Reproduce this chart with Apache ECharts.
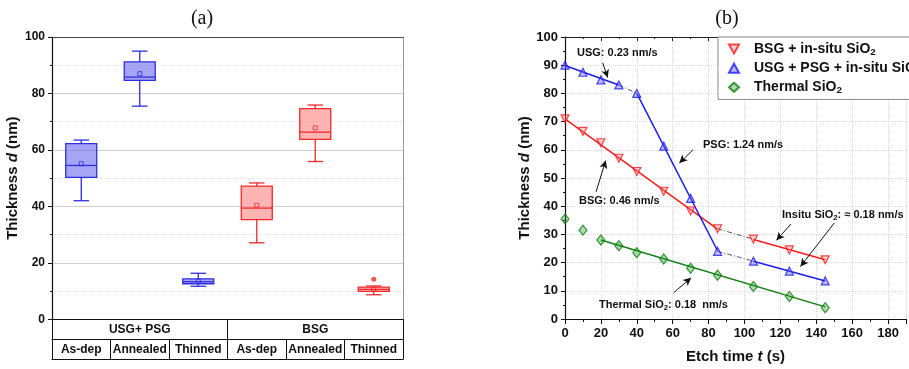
<!DOCTYPE html>
<html>
<head>
<meta charset="utf-8">
<script src="https://cdn.jsdelivr.net/npm/echarts@6/dist/echarts.min.js"></script>
<style>
  html, body { margin: 0; padding: 0; background: #fff; }
  #main { width: 909px; height: 369px; }
</style>
</head>
<body>
<div id="main"></div>
<script>
// ---- panel (a): box plots ----
const groups = ['USG+ PSG', 'BSG'];
const stages = ['As-dep', 'Annealed', 'Thinned', 'As-dep', 'Annealed', 'Thinned'];
// [category index, min, q1, median, q3, max, mean]
const usgBoxes = [
  [0, 42.0, 50.3, 54.5, 62.2, 63.5, 55.1],
  [1, 75.5, 84.6, 85.8, 91.2, 95.0, 87.0],
  [2, 11.7, 12.6, 13.3, 14.3, 16.3, 13.5]
];
const bsgBoxes = [
  [3, 27.1, 35.3, 39.4, 47.2, 48.3, 40.4],
  [4, 55.9, 63.7, 66.3, 74.6, 75.9, 67.8],
  [5, 8.7, 9.9, 10.6, 11.4, 11.8, 10.7]
];
const bsgOutliers = [[5, 14.2]];

// ---- panel (b): etch curves ----
const bsgPoints = [[0, 71], [10, 66.5], [20, 62.5], [30, 57], [40, 52.3], [55, 45.3], [70, 38.3], [85, 32], [105, 28.3], [125, 24.5], [145, 21]];
const usgPoints = [[0, 90], [10, 87.5], [20, 84.8], [30, 83], [40, 80], [55, 61.3], [70, 42.8], [85, 24], [105, 20.5], [125, 17], [145, 13.5]];
const thermalPoints = [[0, 35.5], [10, 31.5], [20, 28], [30, 26], [40, 23.5], [55, 21.3], [70, 18], [85, 15.5], [105, 11.5], [125, 8], [145, 4]];
// linear fits
const bsgFit1 = [[0, 71], [85, 31.9]];
const bsgFit2 = [[105, 28.2], [145, 21]];
const usgFit1 = [[0, 89.9], [30, 83]];
const usgFit2 = [[40, 80], [85, 24.2]];
const usgFit3 = [[105, 20.5], [145, 13.5]];
const thermalFit = [[20, 28], [145, 4.3]];
// dash-dot connectors between fits
const usgGap1 = [[30, 83], [40, 80]];
const usgGap2 = [[85, 24], [105, 20.5]];
const bsgGap = [[85, 32], [105, 28.3]];
// annotation arrows [from, to] in data units
const arrows = [
  [[21, 90.8], [23.8, 85.6]],
  [[71.3, 60], [63.7, 55.3]],
  [[17.3, 45.1], [22.7, 56.2]],
  [[60.5, 9.3], [70.3, 14.6]],
  [[125.9, 33.7], [117.8, 27.9]],
  [[150.1, 34.1], [131.2, 18.6]]
];

const FONT = 'Liberation Sans';
const BLUE = '#1c1cf0';
const RED = '#f51c1c';
const GREEN = '#0f7f0f';

const chart = echarts.init(document.getElementById('main'));

function boxItem(stroke, fill) {
  return function (params, api) {
    const c = api.value(0);
    const lo = api.coord([c, api.value(1)]);
    const q1 = api.coord([c, api.value(2)]);
    const md = api.coord([c, api.value(3)]);
    const q3 = api.coord([c, api.value(4)]);
    const hi = api.coord([c, api.value(5)]);
    const mn = api.coord([c, api.value(6)]);
    const bw = api.size([1, 0])[0] * 0.53;
    const cw = bw * 0.5;
    const x = lo[0];
    const line = (x1, y1, x2, y2) => ({
      type: 'line', shape: { x1, y1, x2, y2 }, style: { stroke, lineWidth: 1.3 }
    });
    return {
      type: 'group',
      children: [
        line(x, hi[1], x, q3[1]),
        line(x, q1[1], x, lo[1]),
        line(x - cw / 2, hi[1], x + cw / 2, hi[1]),
        line(x - cw / 2, lo[1], x + cw / 2, lo[1]),
        { type: 'rect', shape: { x: x - bw / 2, y: q3[1], width: bw, height: q1[1] - q3[1] },
          style: { fill, stroke, lineWidth: 1.3 } },
        line(x - bw / 2, md[1], x + bw / 2, md[1]),
        { type: 'rect', shape: { x: mn[0] - 2, y: mn[1] - 2, width: 4, height: 4 },
          style: { fill: 'none', stroke, lineWidth: 0.8 } }
      ]
    };
  };
}

const titleRich = {
  b: { fontFamily: FONT, fontWeight: 'bold', fontSize: 15, color: '#111' },
  i: { fontFamily: FONT, fontWeight: 'bold', fontStyle: 'italic', fontSize: 15, color: '#111' }
};
const subRich = size => ({
  a: { fontFamily: FONT, fontWeight: 'bold', fontSize: size, color: '#111' },
  s: { fontFamily: FONT, fontWeight: 'bold', fontSize: size * 0.7, color: '#111', padding: [size * 0.45, 0, 0, 0] }
});

function fitLine(data, color) {
  return {
    type: 'line', xAxisIndex: 4, yAxisIndex: 2, data, symbol: 'none', silent: true,
    lineStyle: { color, width: 1.5 }, z: 2
  };
}
function gapLine(data) {
  return {
    type: 'line', xAxisIndex: 4, yAxisIndex: 2, data, symbol: 'none', silent: true,
    lineStyle: { color: '#555', width: 1, type: [5, 2, 1, 2] }, z: 2
  };
}

function note(x, y, text) {
  return {
    type: 'text', x, y, z: 10,
    style: { text, rich: subRich(11), fill: '#111', verticalAlign: 'middle' }
  };
}

chart.setOption({
  animation: false,
  textStyle: { fontFamily: FONT },
  title: [
    { text: '(a)', left: 197, top: 4, textAlign: 'center',
      textStyle: { fontFamily: 'Liberation Serif', fontWeight: 'normal', fontSize: 20, color: '#111' } },
    { text: '(b)', left: 722, top: 4, textAlign: 'center',
      textStyle: { fontFamily: 'Liberation Serif', fontWeight: 'normal', fontSize: 20, color: '#111' } }
  ],
  grid: [
    { left: 52, top: 37, width: 351, bottom: 49.7 },
    { left: 565, top: 37, right: -8, bottom: 49.7 }
  ],
  legend: {
    data: [
      { name: 'BSG + in-situ SiO2', icon: 'path://M0,0L10,0L5,9Z' },
      { name: 'USG + PSG + in-situ SiO2', icon: 'path://M5,0L10,9L0,9Z' },
      { name: 'Thermal SiO2', icon: 'diamond' }
    ],
    orient: 'vertical', left: 718, top: 37, selectedMode: false,
    backgroundColor: '#fff', borderColor: '#888', borderWidth: 1, borderRadius: 0,
    padding: [5, 10, 4, 10], itemGap: 4, itemWidth: 10, itemHeight: 9,
    formatter: name => '{a|' + name.slice(0, -1) + '}{s|2}',
    textStyle: { padding: [0, 0, 0, 10], rich: subRich(14) }
  },
  xAxis: [
    { gridIndex: 0, type: 'category', data: stages, position: 'bottom',
      axisLine: { onZero: false, lineStyle: { color: '#111', width: 1.2 } }, axisTick: { show: false },
      axisLabel: { show: false } },
    { gridIndex: 0, type: 'category', data: groups, position: 'bottom', offset: 20,
      axisLine: { onZero: false, lineStyle: { color: '#111', width: 1 } },
      axisTick: { show: true, inside: true, length: 20, lineStyle: { color: '#111', width: 1 } },
      axisLabel: { inside: true, margin: 4, interval: 0, color: '#111', fontWeight: 'bold', fontSize: 12 } },
    { gridIndex: 0, type: 'category', data: stages, position: 'bottom', offset: 40,
      axisLine: { onZero: false, lineStyle: { color: '#111', width: 1.2 } },
      axisTick: { show: true, inside: true, length: 20, interval: 0, lineStyle: { color: '#111', width: 1 } },
      axisLabel: { inside: true, margin: 4, interval: 0, color: '#111', fontWeight: 'bold', fontSize: 12 } },
    { gridIndex: 0, type: 'category', data: stages, position: 'top',
      axisLine: { onZero: false, lineStyle: { color: '#444', width: 1 } }, axisTick: { show: false },
      axisLabel: { show: false } },
    { gridIndex: 1, type: 'value', min: 0, max: 190, interval: 20, position: 'bottom',
      name: '{b|Etch time }{i|t}{b| (s)}', nameLocation: 'middle', nameGap: 30,
      nameTextStyle: { rich: titleRich },
      axisLine: { onZero: false, lineStyle: { color: '#111', width: 1.2 } },
      axisTick: { length: 5, lineStyle: { color: '#111' } },
      minorTick: { show: true, splitNumber: 2, length: 3, lineStyle: { color: '#111' } },
      axisLabel: { color: '#111', fontWeight: 'bold', fontSize: 13, margin: 8,
        formatter: v => (v % 20 === 0 ? String(v) : '') },
      splitLine: { show: true, lineStyle: { color: '#d8d8d8', type: 'dotted', width: 1 } } },
    { gridIndex: 1, type: 'value', min: 0, max: 190, interval: 20, position: 'top',
      axisLine: { onZero: false, lineStyle: { color: '#222', width: 1 } },
      axisTick: { inside: true, length: 4, lineStyle: { color: '#222' } },
      minorTick: { show: true, splitNumber: 2, length: 2 },
      axisLabel: { show: false }, splitLine: { show: false } }
  ],
  yAxis: [
    { gridIndex: 0, type: 'value', min: 0, max: 100, interval: 20,
      name: '{b|Thickness }{i|d}{b| (nm)}', nameLocation: 'middle', nameGap: 32,
      nameTextStyle: { rich: titleRich },
      axisLine: { show: true, onZero: false, lineStyle: { color: '#111', width: 1.2 } },
      axisTick: { show: true, length: 4, lineStyle: { color: '#111' } },
      minorTick: { show: true, splitNumber: 2, length: 2, lineStyle: { color: '#111' } },
      axisLabel: { color: '#111', fontWeight: 'bold', fontSize: 12, margin: 7 },
      splitLine: { show: true, lineStyle: { color: '#cfcfcf', width: 1 } },
      minorSplitLine: { show: true, lineStyle: { color: '#e0e0e0', type: 'dotted' } } },
    { gridIndex: 0, type: 'value', min: 0, max: 100, position: 'right',
      axisLine: { show: true, onZero: false, lineStyle: { color: '#999', width: 1 } },
      axisTick: { show: false }, axisLabel: { show: false }, splitLine: { show: false } },
    { gridIndex: 1, type: 'value', min: 0, max: 100, interval: 10,
      name: '{b|Thickness }{i|d}{b| (nm)}', nameLocation: 'middle', nameGap: 32,
      nameTextStyle: { rich: titleRich },
      axisLine: { show: true, onZero: false, lineStyle: { color: '#111', width: 1.2 } },
      axisTick: { show: true, length: 4, lineStyle: { color: '#111' } },
      minorTick: { show: true, splitNumber: 2, length: 2, lineStyle: { color: '#111' } },
      axisLabel: { color: '#111', fontWeight: 'bold', fontSize: 13, margin: 7 },
      splitLine: { show: true, lineStyle: { color: '#d8d8d8', type: 'dotted', width: 1 } } }
  ],
  series: [
    { type: 'custom', name: 'USG+PSG', xAxisIndex: 0, yAxisIndex: 0, data: usgBoxes,
      encode: { x: 0, y: [1, 2, 3, 4, 5, 6] },
      renderItem: boxItem('#2e2ee0', 'rgba(110,110,235,0.62)'), z: 3 },
    { type: 'custom', name: 'BSG', xAxisIndex: 0, yAxisIndex: 0, data: bsgBoxes,
      encode: { x: 0, y: [1, 2, 3, 4, 5, 6] },
      renderItem: boxItem('#f02a2a', 'rgba(255,140,140,0.65)'), z: 3 },
    { type: 'scatter', xAxisIndex: 0, yAxisIndex: 0, data: bsgOutliers,
      symbol: 'circle', symbolSize: 5, itemStyle: { color: '#f02a2a' }, z: 4 },

    fitLine(bsgFit1, RED), fitLine(bsgFit2, RED),
    fitLine(usgFit1, BLUE), fitLine(usgFit2, BLUE), fitLine(usgFit3, BLUE),
    fitLine(thermalFit, GREEN),
    gapLine(usgGap1), gapLine(usgGap2), gapLine(bsgGap),

    { type: 'scatter', name: 'BSG + in-situ SiO2', xAxisIndex: 4, yAxisIndex: 2, data: bsgPoints,
      symbol: 'triangle', symbolRotate: 180, symbolSize: 8,
      itemStyle: { color: 'rgba(255,120,120,0.45)', borderColor: RED, borderWidth: 1.2 }, z: 5 },
    { type: 'scatter', name: 'USG + PSG + in-situ SiO2', xAxisIndex: 4, yAxisIndex: 2, data: usgPoints,
      symbol: 'triangle', symbolSize: 8,
      itemStyle: { color: 'rgba(90,90,255,0.5)', borderColor: BLUE, borderWidth: 1.2 }, z: 5 },
    { type: 'scatter', name: 'Thermal SiO2', xAxisIndex: 4, yAxisIndex: 2, data: thermalPoints,
      symbol: 'diamond', symbolSize: [8, 10],
      itemStyle: { color: 'rgba(40,150,40,0.45)', borderColor: GREEN, borderWidth: 1.2 }, z: 5 },

    { type: 'scatter', xAxisIndex: 4, yAxisIndex: 2, data: [], silent: true,
      markLine: {
        silent: true, symbol: ['none', 'arrow'], symbolSize: [6, 8],
        label: { show: false },
        lineStyle: { color: '#111', width: 1, type: 'solid' },
        data: arrows.map(a => [{ coord: a[0] }, { coord: a[1] }])
      } }
  ],
  graphic: [
    note(577, 53, '{a|USG: 0.23 nm/s}'),
    note(703, 145, '{a|PSG: 1.24 nm/s}'),
    note(579, 201, '{a|BSG: 0.46 nm/s}'),
    note(599, 305, '{a|Thermal SiO}{s|2}{a|: 0.18  nm/s}'),
    note(782, 215, '{a|Insitu SiO}{s|2}{a|: ≈ 0.18 nm/s}')
  ]
});
</script>
</body>
</html>
